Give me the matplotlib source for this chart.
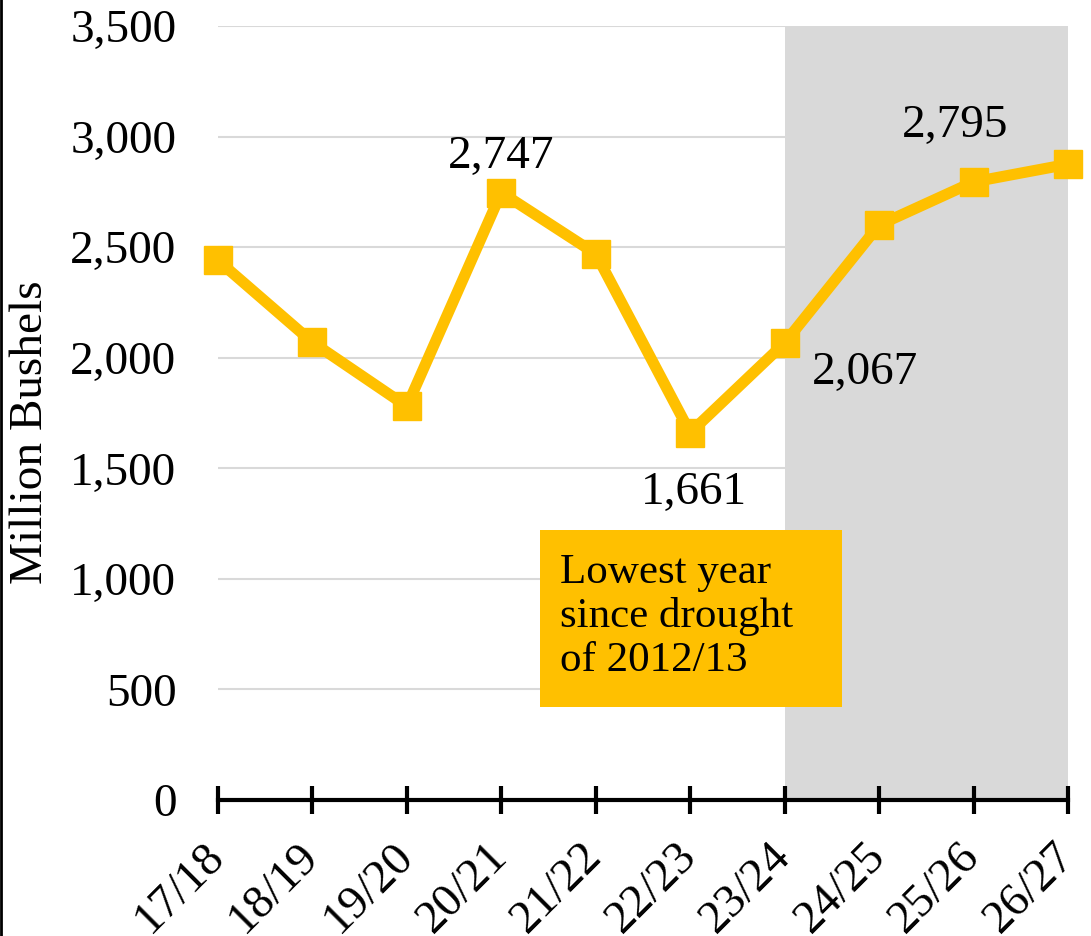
import matplotlib.pyplot as plt
from matplotlib.lines import Line2D
from matplotlib.patches import Rectangle

years = ['17/18', '18/19', '19/20', '20/21', '21/22', '22/23', '23/24', '24/25', '25/26', '26/27']
bushels = [2440, 2070, 1780, 2747, 2470, 1661, 2067, 2600, 2795, 2875]
yticks = [0, 500, 1000, 1500, 2000, 2500, 3000, 3500]

# labelled points: index, text, offset in pixels
labels = [(3, '2,747', (0, 36)), (5, '1,661', (4, -60)), (6, '2,067', (80, -30)), (8, '2,795', (-18, 56))]

plt.rcParams['font.family'] = 'Liberation Serif'
gold = '#FFC000'

fig = plt.figure(figsize=(10.91, 9.36), dpi=100)
ax = fig.add_axes([0.1998, 0.1453, 0.9789 - 0.1998, 0.9722 - 0.1453])

x = list(range(len(years)))
ax.axvspan(6, 9, ymin=0, ymax=1, color='#D9D9D9', zorder=0, lw=0)
ax.plot(x, bushels, color=gold, lw=8, marker='s', markersize=20, zorder=3, clip_on=False)

for i, t, (dx, dy) in labels:
    ax.annotate(t, (x[i], bushels[i]), xytext=(dx * 0.72, dy * 0.72), textcoords='offset points',
                ha='center', va='center', fontsize=34)

# callout box
ax.add_patch(Rectangle((3.41, 420), 3.2, 800, fc=gold, ec='none', zorder=4))
ax.text(3.62, 830, 'Lowest year\nsince drought\nof 2012/13', fontsize=31, ha='left', va='center',
        linespacing=1.17, zorder=5)

ax.set_xlim(0, 9)
ax.set_ylim(0, 3500)
ax.set_yticks(yticks)
ax.set_yticklabels([f'{v:,}' for v in yticks], fontsize=34)
ax.set_xticks(x)
ax.set_xticklabels(years, fontsize=34, rotation=45, ha='right', va='center', rotation_mode='anchor')
ax.tick_params(axis='y', length=0, pad=30)
ax.tick_params(axis='x', direction='inout', length=20, width=3, pad=26)
ax.yaxis.grid(True, color='#D9D9D9', lw=1.5)
ax.set_axisbelow(True)
for s in ['left', 'right', 'top']:
    ax.spines[s].set_visible(False)
ax.spines['bottom'].set_linewidth(3)
ax.set_ylabel('Million Bushels', fontsize=34)
ax.yaxis.set_label_coords(-0.195, 0.475)

fig.add_artist(Line2D([0.001, 0.001], [0, 1], color='black', lw=2, transform=fig.transFigure))

fig.savefig('out.png', dpi=100)
